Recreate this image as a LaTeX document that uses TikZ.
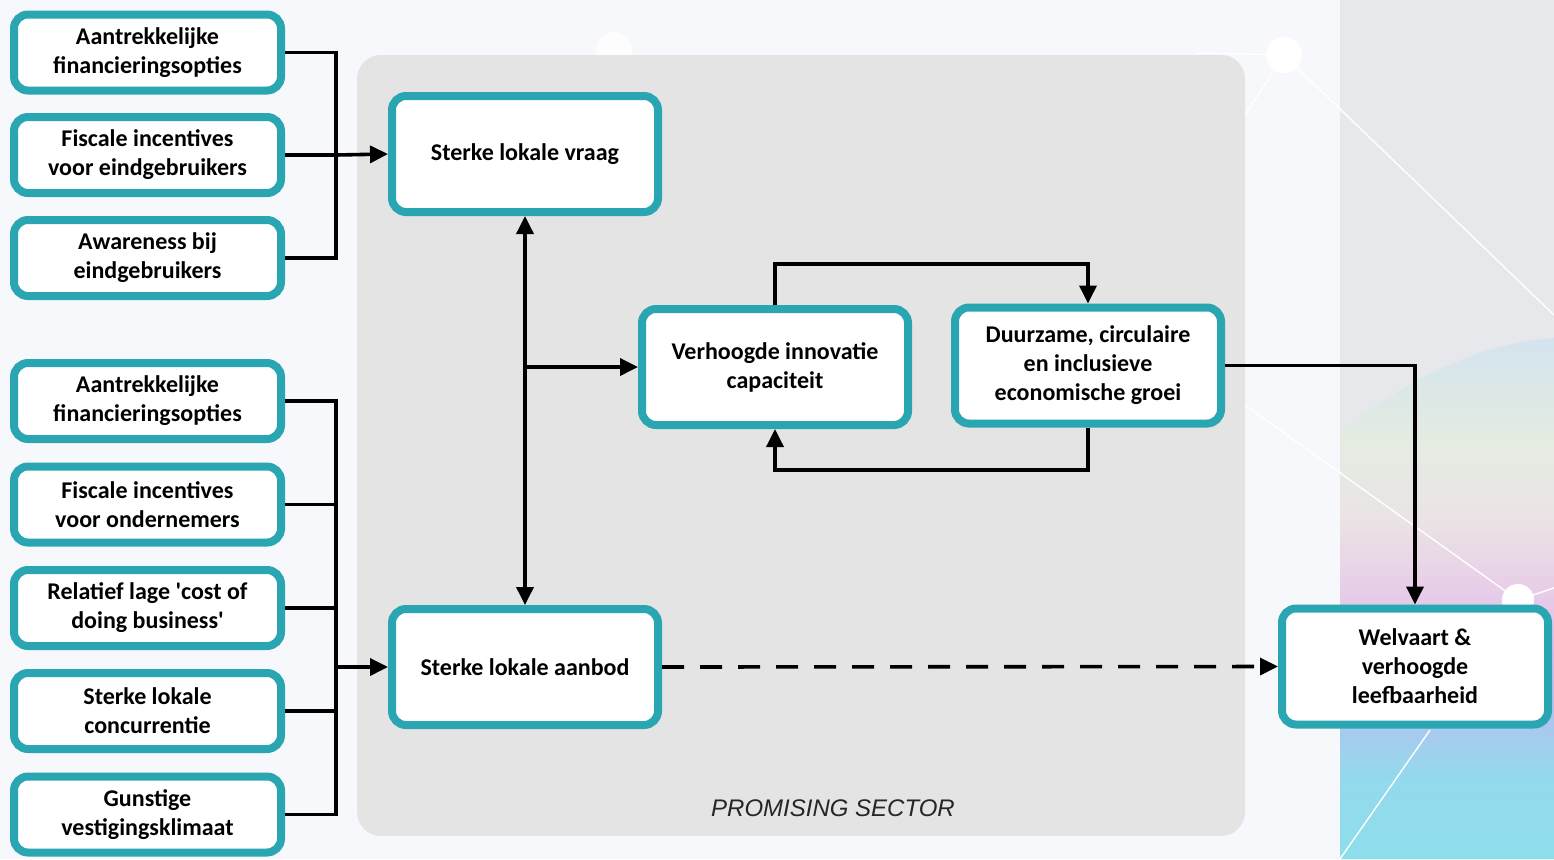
\documentclass[tikz,border=0pt]{standalone}
\usepackage{fontspec}
\setmainfont{Carlito}
\newfontfamily\arialfont{Liberation Sans}
\usetikzlibrary{arrows.meta,calc}
\definecolor{teal1}{HTML}{2AA6B2}
\definecolor{bgl}{HTML}{F7F8FC}
\definecolor{bgr}{HTML}{E7E8EC}
\definecolor{panel}{HTML}{E4E4E4}
\pgfdeclareverticalshading{blobshade}{100bp}{%
  color(0bp)=(rgb,255:red,142;green,221;blue,235);
  color(25bp)=(rgb,255:red,142;green,221;blue,235);
  color(32.5bp)=(rgb,255:red,146;green,218;blue,236);
  color(39bp)=(rgb,255:red,176;green,196;blue,240);
  color(45bp)=(rgb,255:red,214;green,190;blue,238);
  color(51bp)=(rgb,255:red,232;green,206;blue,232);
  color(58bp)=(rgb,255:red,234;green,228;blue,228);
  color(65bp)=(rgb,255:red,228;green,236;blue,226);
  color(75bp)=(rgb,255:red,212;green,228;blue,238);
  color(100bp)=(rgb,255:red,212;green,228;blue,238)}
\begin{document}
\begin{tikzpicture}[x=0.5pt,y=-0.5pt,
 box/.style={draw=teal1,fill=white,line width=4pt,rounded corners=7pt,align=center,
   font=\fontsize{12}{14.5}\selectfont\bfseries,inner sep=0pt},
 lbox/.style={box,minimum width=133.5pt,minimum height=38pt},
 cbox/.style={box,minimum width=133pt,minimum height=58pt},
 conn/.style={line width=1.8pt,black},
 arr/.style={conn,-{Triangle[length=9pt,width=8.5pt]}},
 darr/.style={conn,{Triangle[length=9pt,width=8.5pt]}-{Triangle[length=9pt,width=8.5pt]}},
 deco/.style={white,line width=0.7pt}]
\useasboundingbox (0,0) rectangle (1554,859);
% background
\fill[bgl] (0,0) rectangle (1554,859);
\fill[bgr] (1340,0) rectangle (1554,859);
\shade[shading=blobshade]
  (1340,432) .. controls (1420,370) and (1490,342) .. (1554,338) -- (1554,859) -- (1340,859) -- cycle;
% decorative lines
\fill[white,opacity=0.8] (614,50) circle (9pt);
\fill[white] (1284,55) circle (9pt);
\fill[white] (1518,600) circle (8pt);
\draw[deco] (1195,53) -- (1284,55);
\draw[deco] (1284,55) -- (1245,115);
\draw[deco] (1284,55) -- (1554,315);
\draw[deco] (1245,405) -- (1518,600) -- (1554,588);
\draw[deco] (1430,730) -- (1340,859);
% panel
\fill[panel,rounded corners=12pt] (357,55) rectangle (1245,836);
\node[font=\arialfont\itshape\fontsize{12}{14}\selectfont,text=black!85] (ps) at (833,808) {PROMISING SECTOR};
% left boxes
\node[lbox] (l1) at (147.5,52.5) {Aantrekkelijke\\financieringsopties};
\node[lbox] (l2) at (147.5,155) {Fiscale incentives\\voor eindgebruikers};
\node[lbox] (l3) at (147.5,258) {Awareness bij\\eindgebruikers};
\node[lbox] (l4) at (147.5,401) {Aantrekkelijke\\financieringsopties};
\node[lbox] (l5) at (147.5,504.5) {Fiscale incentives\\voor ondernemers};
\node[lbox] (l6) at (147.5,608) {Relatief lage \textquotesingle cost of\\doing business\textquotesingle};
\node[lbox] (l7) at (147.5,711) {Sterke lokale\\concurrentie};
\node[lbox] (l8) at (147.5,814.5) {Gunstige\\vestigingsklimaat};
% central boxes
\node[cbox] (vraag) at (525,154) {Sterke lokale vraag};
\node[cbox] (aanbod) at (525,667) {Sterke lokale aanbod};
\node[cbox] (innov) at (775,367) {Verhoogde innovatie\\capaciteit};
\node[cbox] (duur) at (1088,365.5) {Duurzame, circulaire\\en inclusieve\\economische groei};
\node[cbox] (welv) at (1415,666.5) {Welvaart \&\\verhoogde\\leefbaarheid};
% junctions
\coordinate (jT) at (336,155);
\coordinate (jB) at (336,667);
\coordinate (jM) at (525,367);
\coordinate (lt) at (932,264);
\coordinate (lb) at (932,470);
% connectors
\draw[conn] (l1.east) -| (jT);
\draw[conn] (l3.east) -| (jT);
\draw[conn] (l2.east) -- (jT);
\draw[arr] (jT) -- (vraag.west);
\draw[conn] (l4.east) -| (jB);
\draw[conn] (l8.east) -| (jB);
\draw[conn] (l5.east) -- (l5.east -| jB);
\draw[conn] (l6.east) -- (l6.east -| jB);
\draw[conn] (l7.east) -- (l7.east -| jB);
\draw[arr] (jB) -- (aanbod.west);
\draw[darr] (vraag.south) -- (aanbod.north);
\draw[arr] (jM) -- (innov.west);
\draw[arr] (innov.north) |- (lt) -| (duur.north);
\draw[arr] (duur.south) |- (lb) -| (innov.south);
\draw[arr] (duur.east) -| (welv.north);
\draw[arr,dash pattern=on 11pt off 8pt] (aanbod.east) -- (welv.west);
\end{tikzpicture}
\end{document}
